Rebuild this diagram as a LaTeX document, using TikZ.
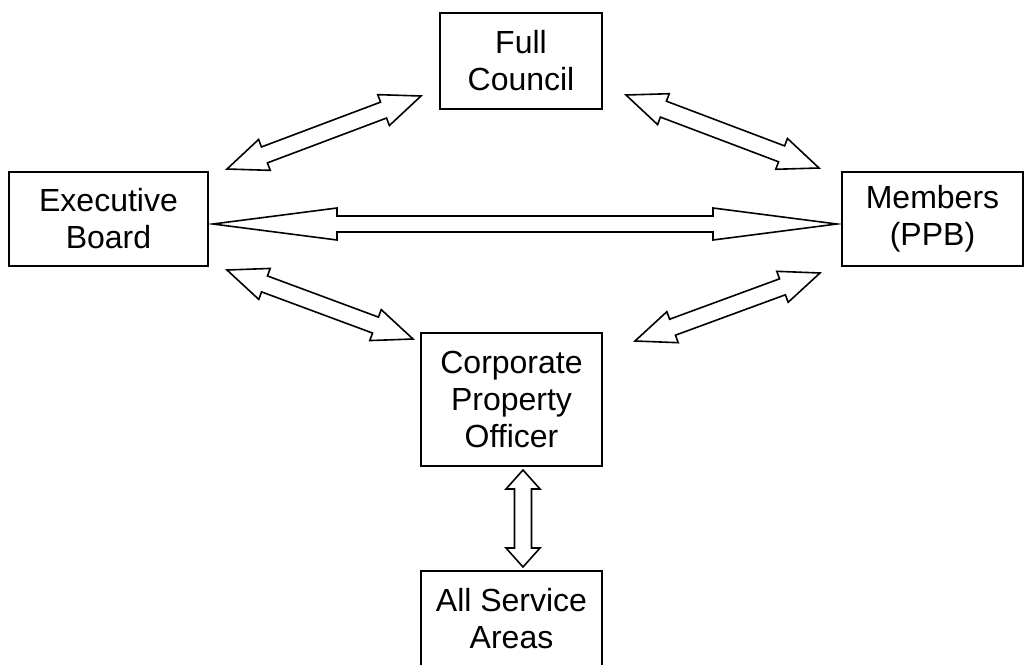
\documentclass[tikz,border=0pt]{standalone}
\usepackage{fontspec}
\setmainfont{Liberation Sans}
\usepackage{tikz}
\usetikzlibrary{calc}
\tikzset{
  unit/.style={draw,line width=0.8pt,align=center,inner sep=0pt,
    font=\fontsize{16}{18.5}\selectfont},
  blockarrow/.style={draw,fill=white,line width=0.8pt,line join=miter}}
% outlined two-headed block arrow: ends, head length, head half width, shaft half width
\newcommand{\dblarrow}[5]{%
  \draw[blockarrow] (#1)
    -- ($(#1)!#3!(#2)!#4!90:(#2)$) -- ($(#1)!#3!(#2)!#5!90:(#2)$)
    -- ($(#2)!#3!(#1)!#5!-90:(#1)$) -- ($(#2)!#3!(#1)!#4!-90:(#1)$)
    -- (#2)
    -- ($(#2)!#3!(#1)!#4!90:(#1)$) -- ($(#2)!#3!(#1)!#5!90:(#1)$)
    -- ($(#1)!#3!(#2)!#5!-90:(#2)$) -- ($(#1)!#3!(#2)!#4!-90:(#2)$)
    -- cycle;}
\newcommand{\diagarrow}[2]{\dblarrow{#1}{#2}{20pt}{8.25pt}{4.25pt}}

\begin{document}
\begin{tikzpicture}[x=0.5pt,y=-0.5pt]
  \path[use as bounding box,clip] (0,0) rectangle (1028,664);
  % boxes
  \node[unit,minimum width=81pt,minimum height=48pt] (council) at (521,61) {Full\\Council};
  \node[unit,minimum width=99.5pt,minimum height=47pt] (exec) at (108.5,219) {Executive\\Board};
  \node[unit,minimum width=90.5pt,minimum height=47pt] (members) at (932.5,219) {Members\\(PPB)};
  \node[unit,minimum width=90.5pt,minimum height=66.5pt] (cpo) at (511.5,399.5) {Corporate\\Property\\Officer};
  \node[unit,minimum width=90.5pt,minimum height=48pt] (areas) at (511.5,619) {All Service\\Areas};
  % arrow ends
  \coordinate (ebfc1) at (227,169);  \coordinate (ebfc2) at (421,96);
  \coordinate (fcmb1) at (626,95);   \coordinate (fcmb2) at (819,168);
  \coordinate (ebmb1) at (213,224);  \coordinate (ebmb2) at (837,224);
  \coordinate (ebcp1) at (227,270);  \coordinate (ebcp2) at (413,339);
  \coordinate (cpmb1) at (635,341);  \coordinate (cpmb2) at (820,273);
  \coordinate (cpsa1) at (523,470);  \coordinate (cpsa2) at (523,567);
  % arrows
  \diagarrow{ebfc1}{ebfc2}
  \diagarrow{fcmb1}{fcmb2}
  \diagarrow{ebcp1}{ebcp2}
  \diagarrow{cpmb1}{cpmb2}
  \dblarrow{ebmb1}{ebmb2}{62pt}{8pt}{4pt}
  \dblarrow{cpsa1}{cpsa2}{9.5pt}{8.5pt}{4.25pt}
\end{tikzpicture}
\end{document}
